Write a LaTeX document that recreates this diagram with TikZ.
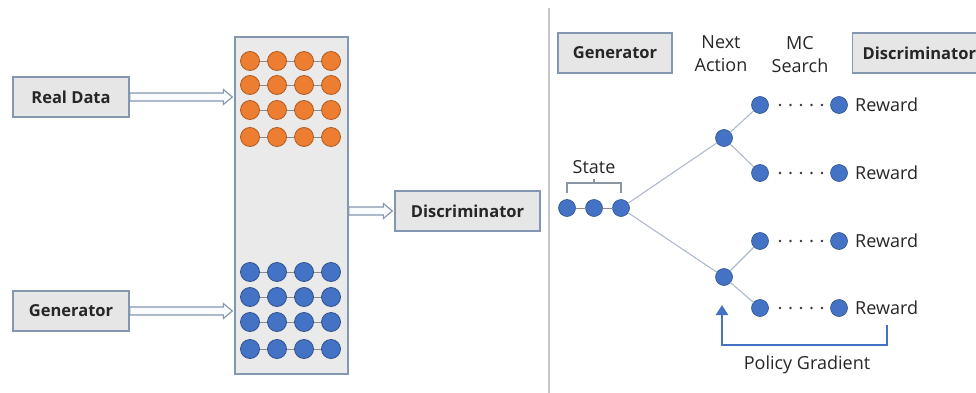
\documentclass[tikz,border=0pt]{standalone}
\usepackage{fontspec}
\setmainfont{Open Sans}
\usetikzlibrary{arrows.meta,calc}
\definecolor{boxfill}{HTML}{E7E6E6}
\definecolor{boxline}{HTML}{8497B0}
\definecolor{dotblue}{HTML}{4472C4}
\definecolor{dotblueline}{HTML}{2F528F}
\definecolor{dotorange}{HTML}{ED7D31}
\definecolor{dotorangeline}{HTML}{AE5A21}
\definecolor{treeline}{HTML}{AFBACD}
\definecolor{rowline}{HTML}{8C8C8C}
\definecolor{divider}{HTML}{C4C8CE}
\definecolor{arrowfill}{HTML}{FAFBFD}
\begin{document}
\begin{tikzpicture}[x=1pt,y=-1pt,
  labelbox/.style={draw=boxline, fill=boxfill, line width=1.3pt, inner sep=0pt,
    font=\bfseries\fontsize{16.5}{19}\selectfont, text=black!85},
  panel/.style={draw=boxline, fill=boxfill!85!white, line width=1.3pt},
  odot/.style={circle, draw=dotorangeline, fill=dotorange, line width=0.8pt, minimum size=19pt, inner sep=0pt},
  bdot/.style={circle, draw=dotblueline, fill=dotblue, line width=0.8pt, minimum size=19pt, inner sep=0pt},
  tdot/.style={circle, draw=dotblueline, fill=dotblue, line width=0.6pt, minimum size=17pt, inner sep=0pt, outer sep=0pt},
  rowlink/.style={draw=rowline, line width=0.8pt},
  branch/.style={draw=treeline, line width=1.1pt},
  % outlined block arrow: shaft 8pt high, head 15pt high and 9pt long
  hollowarrow/.style={draw=boxline, fill=arrowfill, line width=1.2pt, line join=miter,
    to path={let \p1=(\tikztostart), \p2=(\tikztotarget) in
      ({\x1},{\y1+4pt}) -- ({\x2-11pt},{\y1+4pt}) -- ({\x2-11pt},{\y1+7.5pt})
      -- ({\x2-2pt},{\y1}) -- ({\x2-11pt},{\y1-7.5pt}) -- ({\x2-11pt},{\y1-4pt})
      -- ({\x1},{\y1-4pt}) -- cycle}},
  trailcolor/.style={fill=black!80},
  plain/.style={font=\fontsize{18}{23}\selectfont, text=black!85, inner sep=0pt},
  pgarrow/.style={draw=dotblue, line width=2.4pt, -{Triangle[width=12pt,length=10pt]}},
  bracket/.style={draw=treeline!80!black, line width=1.1pt}
]
\useasboundingbox (0,0) rectangle (976,393);

% ---------- left half: real vs. generated samples ----------
\node[panel, minimum width=113pt, minimum height=337pt] (panel) at (291.5,205.5) {};

\node[labelbox, minimum width=116pt, minimum height=40pt] (real) at (71,97) {Real Data};
\node[labelbox, minimum width=116pt, minimum height=40pt] (genL) at (71,311) {Generator};
\node[labelbox, minimum width=145pt, minimum height=40pt] (discL) at (467.5,211) {Discriminator};

% sample grids
\foreach \r/\y in {1/61,2/85,3/110,4/137}{
  \foreach \c/\x in {1/250,2/277,3/304,4/331}{
    \node[odot] (o-\r-\c) at (\x,\y) {};
  }
  \draw[rowlink] (o-\r-1) -- (o-\r-2) (o-\r-2) -- (o-\r-3) (o-\r-3) -- (o-\r-4);
}
\foreach \r/\y in {1/272,2/297,3/322,4/349}{
  \foreach \c/\x in {1/250,2/277,3/304,4/331}{
    \node[bdot] (b-\r-\c) at (\x,\y) {};
  }
  \draw[rowlink] (b-\r-1) -- (b-\r-2) (b-\r-2) -- (b-\r-3) (b-\r-3) -- (b-\r-4);
}

\draw[hollowarrow] (real.east) to (real.east -| panel.west);
\draw[hollowarrow] (genL.east) to (genL.east -| panel.west);
\draw[hollowarrow] (discL.west -| panel.east) to (discL.west);

% ---------- divider ----------
\coordinate (divtop) at (549,8);
\coordinate (divbot) at (549,393);
\draw[draw=divider, line width=1.2pt] (divtop) -- (divbot);

% ---------- right half: sequence generation with MC search ----------
\node[labelbox, minimum width=114pt, minimum height=40pt] (genR) at (615,53) {Generator};
\node[labelbox, anchor=west, minimum height=40pt, inner xsep=10pt, minimum width=150pt, text width=130pt, align=left] (discR) at (852,53) {Discriminator};

\node[plain, align=center] (nextact) at (721,54) {Next\\Action};
\node[plain, align=center] (mcsearch) at (800,55) {MC\\Search};

% state
\node[tdot] (s1) at (567,208) {};
\node[tdot] (s2) at (594,208) {};
\node[tdot] (s3) at (621,208) {};
\draw[rowlink] (s1) -- (s2) (s2) -- (s3);
\node[plain] (state) at (594,167) {State};
\coordinate (bl) at (567,193);
\coordinate (br) at (621,193);
\coordinate (bm) at (594,183);
\draw[bracket] (bl) -- (bl |- bm) -- (br |- bm) -- (br);
\draw[bracket] (bm) -- ++(0,-4);

% next actions
\node[tdot] (na1) at (724,138) {};
\node[tdot] (na2) at (724,277) {};

% MC rollouts: five dots between the rollout start and its end point
\foreach \i/\y in {1/105,2/173,3/241,4/308}{
  \node[tdot] (m\i) at (760,\y) {};
  \node[tdot] (e\i) at (839,\y) {};
  \node[plain, anchor=west] (rw\i) at (855,\y) {Reward};
  \foreach \f in {0.253,0.386,0.519,0.652,0.785}{
    \fill[trailcolor] ($(m\i)!\f!(e\i)$) circle (1.4pt);
  }
}

\draw[branch] (s3) -- (na1);
\draw[branch] (s3) -- (na2);
\draw[branch] (na1) -- (m1);
\draw[branch] (na1) -- (m2);
\draw[branch] (na2) -- (m3);
\draw[branch] (na2) -- (m4);

% policy gradient feedback
\coordinate (pgstart) at (887,325);
\coordinate (pgtip) at (722,305);
\draw[pgarrow] (pgstart) -- (pgstart |- 0,345) -| (pgtip);
\node[plain] (pglabel) at (807,365) {Policy Gradient};
\end{tikzpicture}
\end{document}
